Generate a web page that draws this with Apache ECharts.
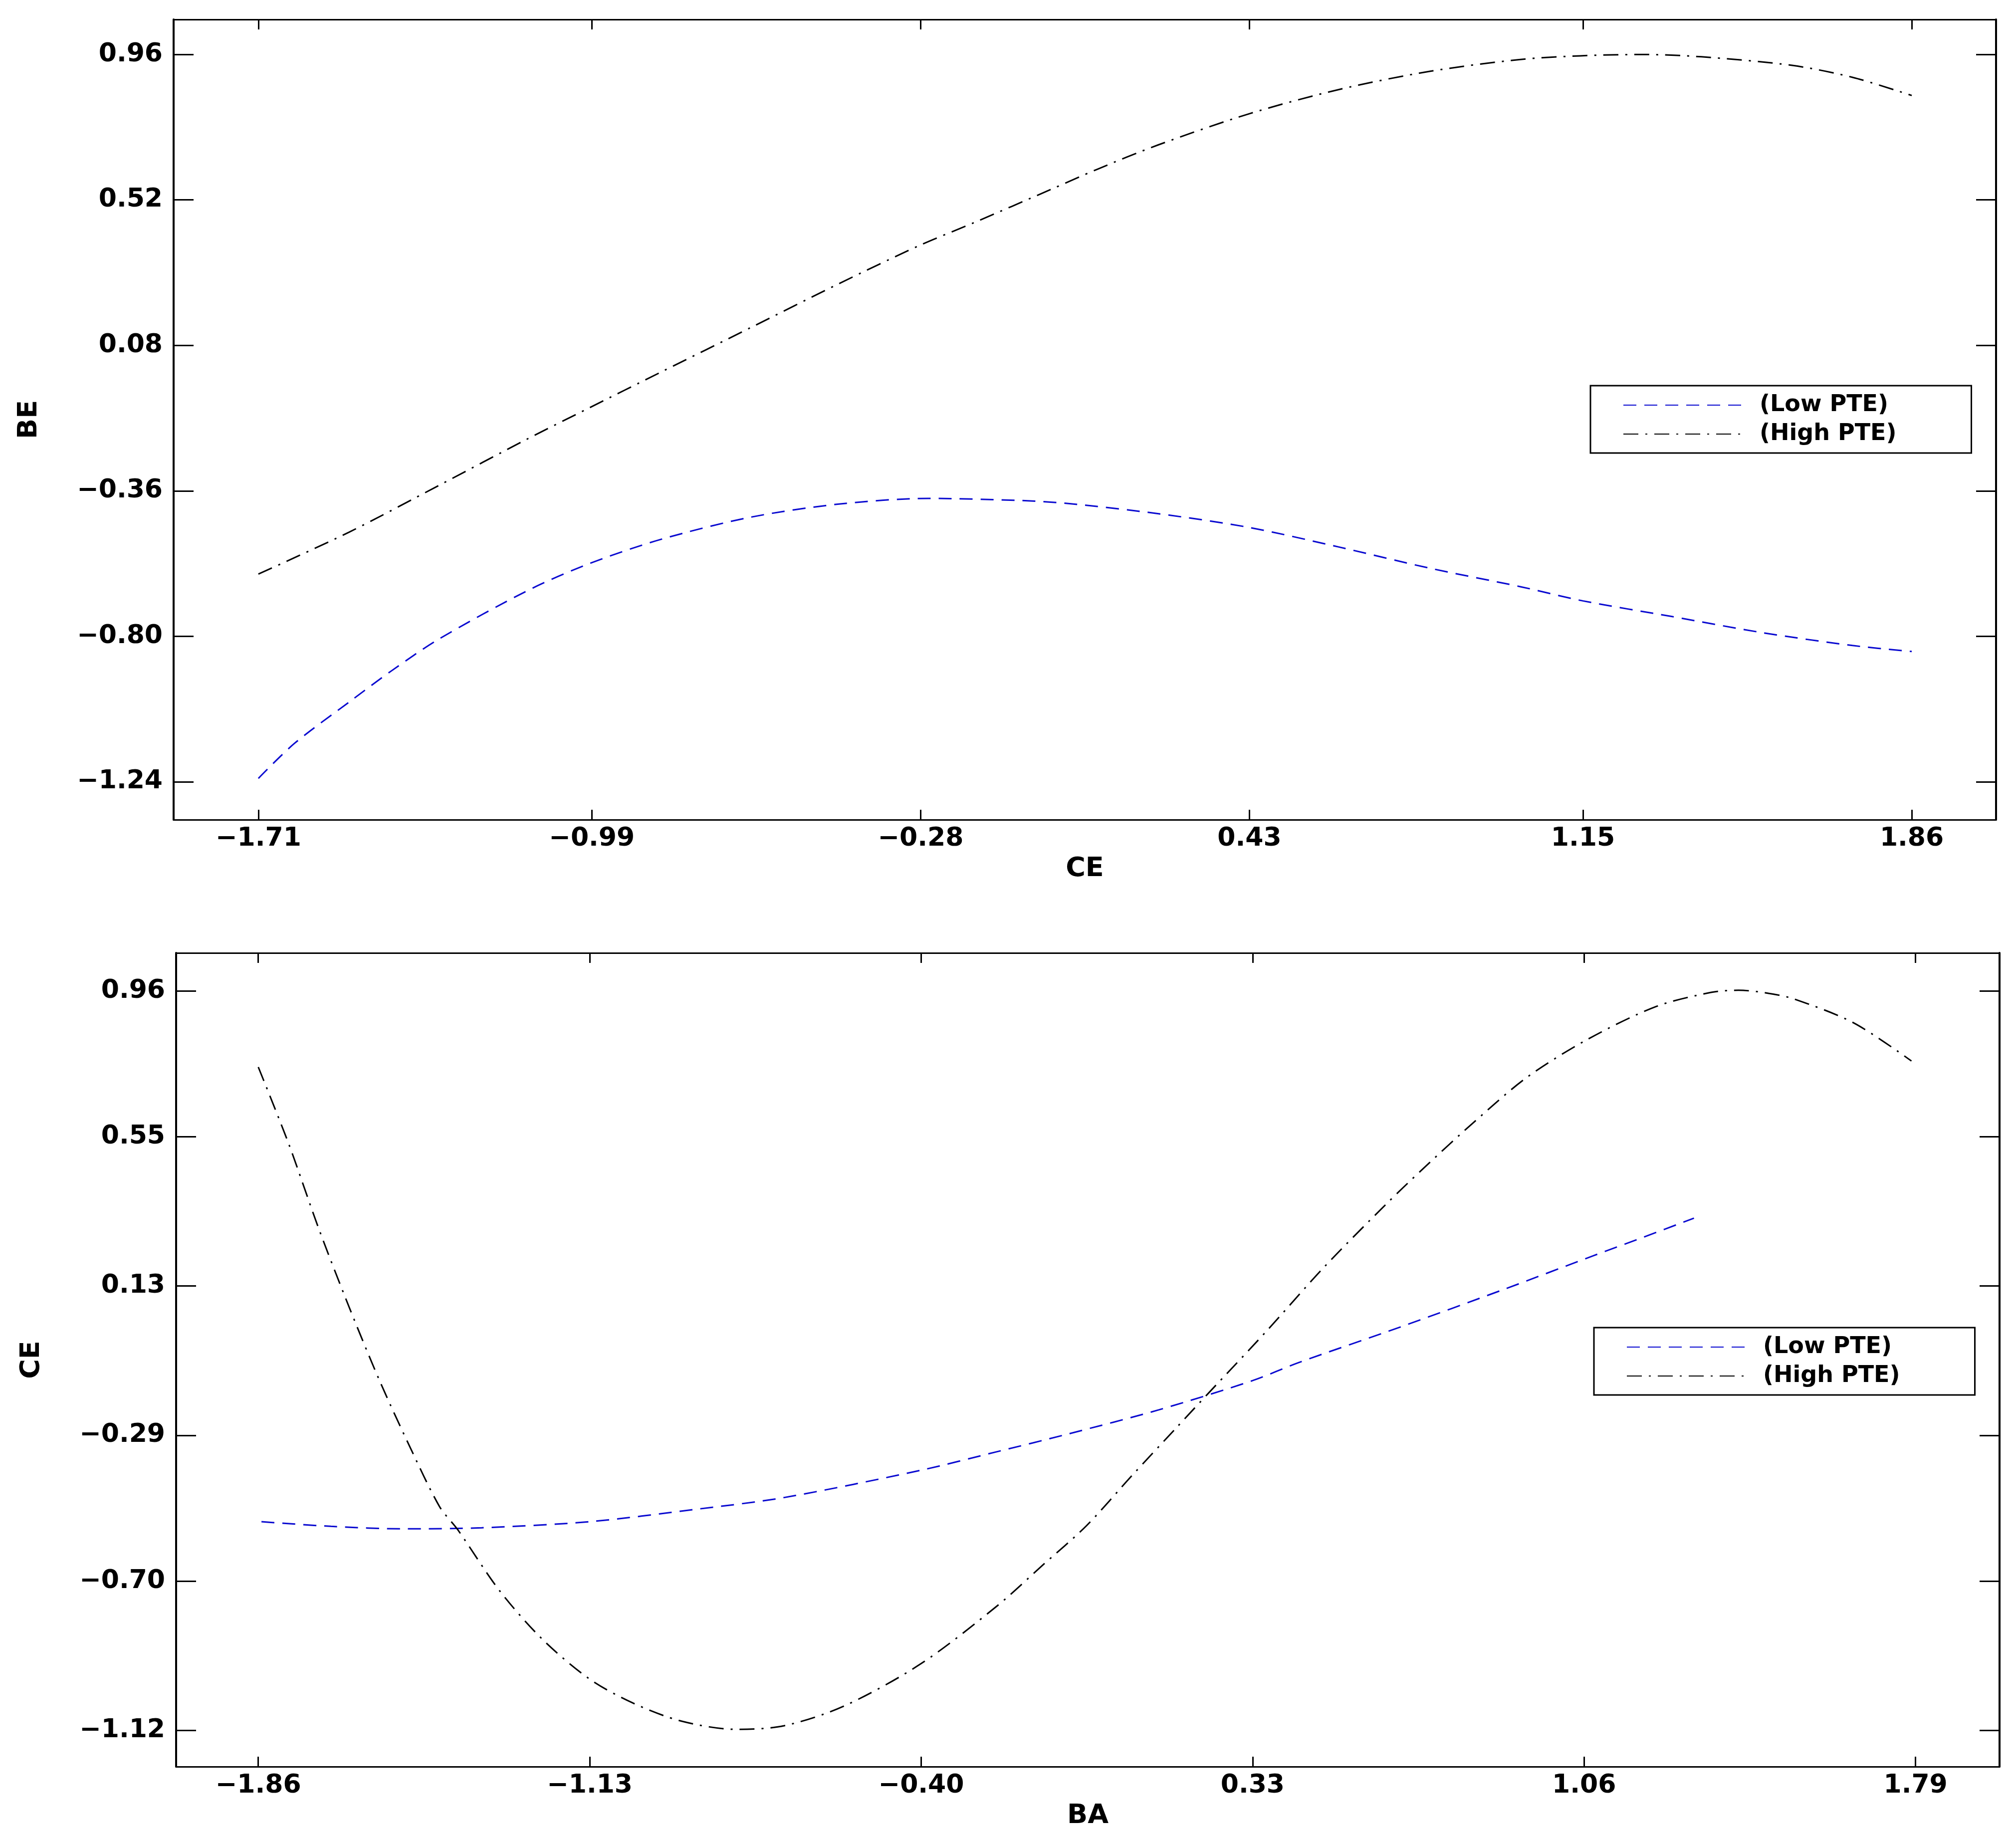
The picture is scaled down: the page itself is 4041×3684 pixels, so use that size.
<!DOCTYPE html>
<html>
<head>
<meta charset="utf-8">
<script src="https://cdn.jsdelivr.net/npm/echarts@6/dist/echarts.min.js"></script>
<style>
  html, body { margin: 0; padding: 0; background: #fff; }
  #chart { width: 4041px; height: 3684px; }
</style>
</head>
<body>
<div id="chart"></div>
<script>
// tick labels
var topTicksCE = [-1.71, -0.99, -0.28, 0.43, 1.15, 1.86]
var topTicksBE = [-1.24, -0.80, -0.36, 0.08, 0.52, 0.96]
var botTicksBA = [-1.86, -1.13, -0.40, 0.33, 1.06, 1.79]
var botTicksCE = [-1.12, -0.70, -0.29, 0.13, 0.55, 0.96]

var legendNames = ['(Low PTE)', '(High PTE)']

// top panel: BE against CE
var lowTopCE = [-1.71, -1.632, -1.514, -1.423, -1.322, -1.129, -0.997, -0.841, -0.648, -0.456, -0.263, -0.071, 0.036, 0.232, 0.43, 0.623, 0.819, 1.015, 1.15, 1.341, 1.537, 1.732, 1.86]
var lowTopBE = [-1.23, -1.124, -0.999, -0.905, -0.810, -0.662, -0.581, -0.507, -0.440, -0.400, -0.383, -0.389, -0.398, -0.429, -0.471, -0.530, -0.594, -0.650, -0.693, -0.740, -0.789, -0.828, -0.846]
var highTopCE = [-1.71, -1.514, -1.322, -1.129, -0.997, -0.841, -0.648, -0.456, -0.283, -0.167, 0.0, 0.10, 0.232, 0.43, 0.623, 0.819, 1.015, 1.144, 1.276, 1.406, 1.602, 1.732, 1.86]
var highTopBE = [-0.612, -0.485, -0.345, -0.203, -0.110, -0.001, 0.133, 0.267, 0.382, 0.450, 0.551, 0.612, 0.686, 0.781, 0.854, 0.909, 0.945, 0.956, 0.960, 0.953, 0.927, 0.891, 0.836]

// bottom panel: CE against BA
var lowBotBA = [-1.853, -1.70, -1.54, -1.368, -1.131, -0.902, -0.702, -0.40, -0.236, -0.076, 0.124, 0.33, 0.432, 0.656, 0.880, 1.082, 1.188, 1.302]
var lowBotCE = [-0.533, -0.546, -0.553, -0.550, -0.533, -0.499, -0.465, -0.388, -0.337, -0.286, -0.218, -0.136, -0.085, 0.015, 0.119, 0.216, 0.266, 0.321]
var highBotBA = [-1.86, -1.793, -1.727, -1.66, -1.594, -1.527, -1.461, -1.421, -1.328, -1.234, -1.131, -1.035, -0.928, -0.808, -0.702, -0.569, -0.40, -0.232, -0.134, -0.035, 0.063, 0.161, 0.233, 0.359, 0.488, 0.623, 0.707, 0.820, 0.933, 1.065, 1.218, 1.340, 1.400, 1.458, 1.521, 1.654, 1.781]
var highBotCE = [0.746, 0.530, 0.292, 0.071, -0.133, -0.320, -0.490, -0.555, -0.728, -0.864, -0.975, -1.043, -1.094, -1.117, -1.107, -1.051, -0.932, -0.769, -0.657, -0.543, -0.405, -0.270, -0.171, 0.001, 0.184, 0.359, 0.462, 0.594, 0.716, 0.822, 0.916, 0.956, 0.962, 0.955, 0.938, 0.870, 0.763]

var FONT = 'DejaVu Sans'
var BLUE = '#0a0ad0'
var LOW_DASH = [26, 16]
var HIGH_DASH = [30, 14, 4, 14]

var zip = function (xs, ys) {
  return xs.map(function (x, i) { return [x, ys[i]] })
}

var fmt = function (v) {
  return (v < 0 ? '\u2212' : '') + Math.abs(v).toFixed(2)
}

var makeAxis = function (gridIndex, position, min, max, ticks, name, showLabel) {
  var isX = position === 'bottom' || position === 'top'
  var axis = {
    type: 'value',
    gridIndex: gridIndex,
    position: position,
    min: min,
    max: max,
    splitLine: { show: false },
    axisLine: { show: true, onZero: false, lineStyle: { color: '#000', width: isX ? 3 : 4 } },
    axisTick: {
      show: true,
      inside: true,
      length: isX ? 20 : 40,
      customValues: ticks,
      lineStyle: { color: '#000', width: 3 }
    },
    axisLabel: {
      show: showLabel,
      customValues: ticks,
      formatter: fmt,
      color: '#000',
      fontFamily: FONT,
      fontWeight: 'bold',
      fontSize: 52,
      margin: isX ? 12 : 22
    }
  }
  if (name) {
    axis.name = name
    axis.nameLocation = 'middle'
    axis.nameGap = isX ? 72 : 262
    axis.nameTextStyle = { color: '#000', fontFamily: FONT, fontWeight: 'bold', fontSize: 54 }
  }
  return axis
}

var makeLegend = function (left, top) {
  return {
    orient: 'vertical',
    left: left,
    top: top,
    data: legendNames,
    backgroundColor: '#fff',
    borderColor: '#000',
    borderWidth: 3,
    borderRadius: 0,
    padding: [16, 150, 15, 65],
    itemWidth: 243,
    itemHeight: 20,
    itemGap: 12,
    selectedMode: false,
    itemStyle: { opacity: 0 },
    textStyle: { color: '#000', fontFamily: FONT, fontWeight: 'bold', fontSize: 46, padding: [0, 0, 0, 25] }
  }
}

var makeLine = function (name, data, xi, yi) {
  var isLow = name === legendNames[0]
  return {
    name: name,
    type: 'line',
    xAxisIndex: xi,
    yAxisIndex: yi,
    data: data,
    symbol: 'none',
    smooth: 0.3,
    color: isLow ? BLUE : '#000',
    lineStyle: { color: isLow ? BLUE : '#000', width: 3, type: isLow ? LOW_DASH : HIGH_DASH }
  }
}

var chart = echarts.init(document.getElementById('chart'))
var option = {
  backgroundColor: '#fff',
  animation: false,
  grid: [
    { left: 348, right: 40, top: 39, height: 1604 },
    { left: 353, right: 33, top: 1910, height: 1631 }
  ],
  xAxis: [
    makeAxis(0, 'bottom', -1.893, 2.042, topTicksCE, 'CE', true),
    makeAxis(0, 'top', -1.893, 2.042, topTicksCE, null, false),
    makeAxis(1, 'bottom', -2.041, 1.975, botTicksBA, 'BA', true),
    makeAxis(1, 'top', -2.041, 1.975, botTicksBA, null, false)
  ],
  yAxis: [
    makeAxis(0, 'left', -1.355, 1.066, topTicksBE, 'BE', true),
    makeAxis(0, 'right', -1.355, 1.066, topTicksBE, null, false),
    makeAxis(1, 'left', -1.222, 1.067, botTicksCE, 'CE', true),
    makeAxis(1, 'right', -1.222, 1.067, botTicksCE, null, false)
  ],
  legend: [makeLegend(3188, 773), makeLegend(3195, 2661)],
  series: [
    makeLine(legendNames[0], zip(lowTopCE, lowTopBE), 0, 0),
    makeLine(legendNames[1], zip(highTopCE, highTopBE), 0, 0),
    makeLine(legendNames[0], zip(lowBotBA, lowBotCE), 2, 2),
    makeLine(legendNames[1], zip(highBotBA, highBotCE), 2, 2)
  ]
}
chart.setOption(option)
</script>
</body>
</html>
